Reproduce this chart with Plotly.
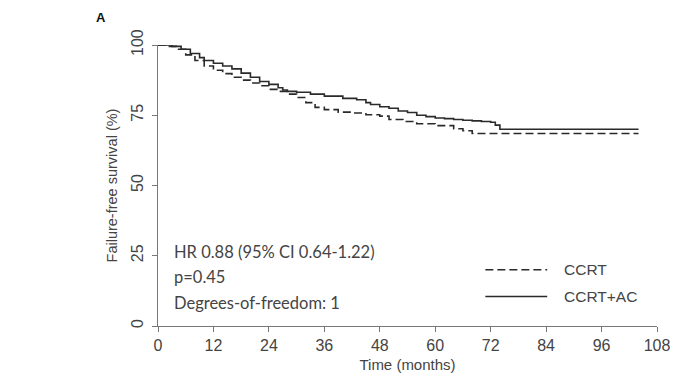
import plotly.graph_objects as go

# Kaplan-Meier step estimates (months, % failure-free)
ccrt_t = [0, 2, 4, 6, 8, 10, 12, 14, 16, 18, 20, 22, 24, 26, 28, 30, 32, 34, 36, 39,
          42, 45, 48, 50, 53, 56, 60, 64, 66, 68, 104]
ccrt_s = [100, 99.5, 98.5, 96.5, 94.5, 92.5, 91, 89.8, 88.5, 87.5, 86.5, 85.5, 84.2, 83.5,
          82.5, 81.3, 79.5, 77.8, 77, 76.1, 75.8, 75.2, 74.7, 73.5, 72.8, 72, 71.3, 70.2,
          69.5, 68.5, 68.5]

ccrt_ac_t = [0, 3, 5, 7, 9, 10, 12, 14, 16, 18, 20, 22, 24, 26, 27, 28, 30, 33, 36, 40,
             43, 45, 46, 48, 50, 52, 54, 56, 58, 60, 62, 64, 66, 68, 70, 72, 73, 74, 104]
ccrt_ac_s = [100, 99.5, 98.5, 97, 95.5, 94.5, 93.5, 92.5, 91.5, 90, 88.5, 87, 86, 84.8,
             84, 83.5, 83.2, 82.5, 81.8, 81, 80.5, 79.5, 78.8, 78, 77.5, 76.5, 76, 75,
             74.5, 74, 73.8, 73.5, 73.2, 73, 72.8, 72.5, 71.5, 70, 70]

x_ticks = [0, 12, 24, 36, 48, 60, 72, 84, 96, 108]
y_ticks = [0, 25, 50, 75, 100]

stats_lines = ["HR 0.88 (95% CI 0.64-1.22)", "p=0.45", "Degrees-of-freedom: 1"]
series_names = ["CCRT", "CCRT+AC"]

line_col = "#2a2a2a"
axis_col = "#777777"
text_col = "#444444"
sans = "Liberation Sans, Arial"

fig = go.Figure()
fig.add_trace(go.Scatter(x=ccrt_t, y=ccrt_s, mode="lines", line_shape="hv",
                         line=dict(color=line_col, width=1.6, dash="8px,4px"),
                         name=series_names[0], showlegend=False))
fig.add_trace(go.Scatter(x=ccrt_ac_t, y=ccrt_ac_s, mode="lines", line_shape="hv",
                         line=dict(color=line_col, width=1.6),
                         name=series_names[1], showlegend=False))

# Legend drawn as short line samples with labels
legend_items = [(series_names[0], "8px,4px", 0.2), (series_names[1], "solid", 0.105)]
for name, dash, yp in legend_items:
    fig.add_shape(type="line", xref="paper", yref="paper",
                  x0=0.656, x1=0.780, y0=yp, y1=yp,
                  line=dict(color=line_col, width=1.6, dash=dash))
    fig.add_annotation(x=0.81, y=yp, xref="paper", yref="paper", text=name,
                       showarrow=False, xanchor="left", yanchor="middle",
                       font=dict(family=sans, size=15.5, color=text_col))

# Hazard ratio summary text
stats_y = [0.263, 0.175, 0.081]
for s, yp in zip(stats_lines, stats_y):
    fig.add_annotation(x=0.028, y=yp, xref="paper", yref="paper", text=s,
                       showarrow=False, xanchor="left", yanchor="middle",
                       font=dict(family="Lato, Open Sans", size=16.5, color=text_col))

# Panel label
fig.add_annotation(x=-0.114, y=1.098, xref="paper", yref="paper", text="<b>A</b>",
                   showarrow=False, xanchor="center", yanchor="middle",
                   font=dict(family=sans, size=13, color="#111"))

fig.update_layout(
    width=682, height=383,
    margin=dict(l=158, r=15, t=45, b=53),
    plot_bgcolor="white", paper_bgcolor="white",
    xaxis=dict(range=[0, 108], tickvals=x_ticks, ticks="outside", ticklen=5,
               tickcolor=axis_col, showline=True, linecolor=axis_col, linewidth=1,
               showgrid=False, zeroline=False,
               tickfont=dict(family=sans, size=16, color=text_col),
               title=dict(text="Time (months)", standoff=6,
                          font=dict(family=sans, size=15, color=text_col))),
    yaxis=dict(range=[0, 100], tickvals=y_ticks, ticks="outside", ticklen=5,
               tickcolor=axis_col, showline=True, linecolor=axis_col, linewidth=1,
               showgrid=False, zeroline=False, tickangle=-90, ticklabelstandoff=3,
               tickfont=dict(family=sans, size=16, color=text_col),
               title=dict(text="Failure-free survival (%)", standoff=7,
                          font=dict(family=sans, size=14.5, color=text_col))),
)

fig.write_html("out.html")
